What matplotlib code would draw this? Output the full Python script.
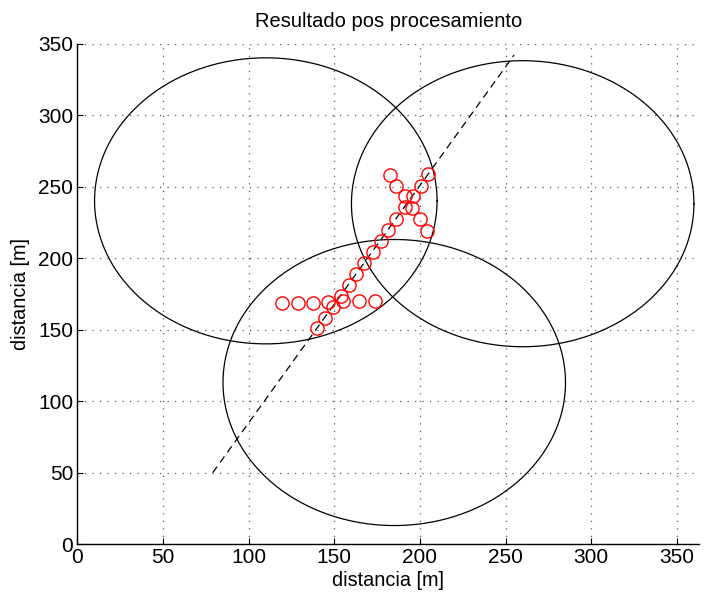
import numpy as np
import matplotlib
matplotlib.use("Agg")
import matplotlib.pyplot as plt

# --- data ---
# reference circles (center x, center y, radius) in metres
circ_x = [110, 260, 185]
circ_y = [240, 238, 113]
circ_r = [100, 100, 100]

# dashed trajectory
traj_x = [79, 255]
traj_y = [50, 342]

# processed positions (red circles)
pts_x = [119.6, 128.6, 137.5, 146.4, 149.0, 155.2, 164.5, 173.5,
         140.0, 144.5, 153.9, 158.3, 162.8, 167.4, 172.3, 177.0,
         181.4, 186.3, 191.2, 195.7, 200.4, 204.8,
         182.4, 186.3, 191.2, 195.1, 199.9, 204.2]
pts_y = [168.3, 168.7, 168.7, 169.4, 165.9, 169.9, 169.9, 170.3,
         150.8, 158.2, 173.6, 181.0, 189.2, 196.6, 204.1, 212.0,
         219.5, 227.2, 235.8, 243.3, 250.5, 258.6,
         257.9, 250.5, 243.3, 235.1, 227.2, 219.0]

x_ticks = [0, 50, 100, 150, 200, 250, 300, 350]
y_ticks = [0, 50, 100, 150, 200, 250, 300, 350]

plt.rcParams['font.family'] = ['Liberation Sans', 'DejaVu Sans']

fig = plt.figure(figsize=(7.04, 5.96), dpi=100)
ax = fig.add_axes([0.110, 0.087, 0.883, 0.840])

t = np.linspace(0, 2 * np.pi, 400)
for cx, cy, r in zip(circ_x, circ_y, circ_r):
    ax.plot(cx + r * np.cos(t), cy + r * np.sin(t), color='black', lw=0.9)

ax.plot(traj_x, traj_y, color='black', lw=0.9, dashes=(6, 4))
ax.plot(pts_x, pts_y, 'o', mfc='none', mec='red', ms=9.5, mew=1.0, linestyle='none')

ax.set_xlim(0, 363)
ax.set_ylim(0, 350)
ax.set_xticks(x_ticks)
ax.set_yticks(y_ticks)
ax.grid(True, color='0.35', linestyle=(0, (1, 5)), linewidth=0.9)
ax.tick_params(direction='in', length=4, labelsize=15, pad=3)

for side in ['top', 'right']:
    ax.spines[side].set_visible(False)
for side in ['left', 'bottom']:
    ax.spines[side].set_linewidth(1.0)

ax.set_title('Resultado pos procesamiento', fontsize=14.5, pad=12)
ax.set_xlabel('distancia [m]', fontsize=14.3, labelpad=3)
ax.set_ylabel('distancia [m]', fontsize=14.3, labelpad=6)

fig.savefig('out.png', dpi=100)
